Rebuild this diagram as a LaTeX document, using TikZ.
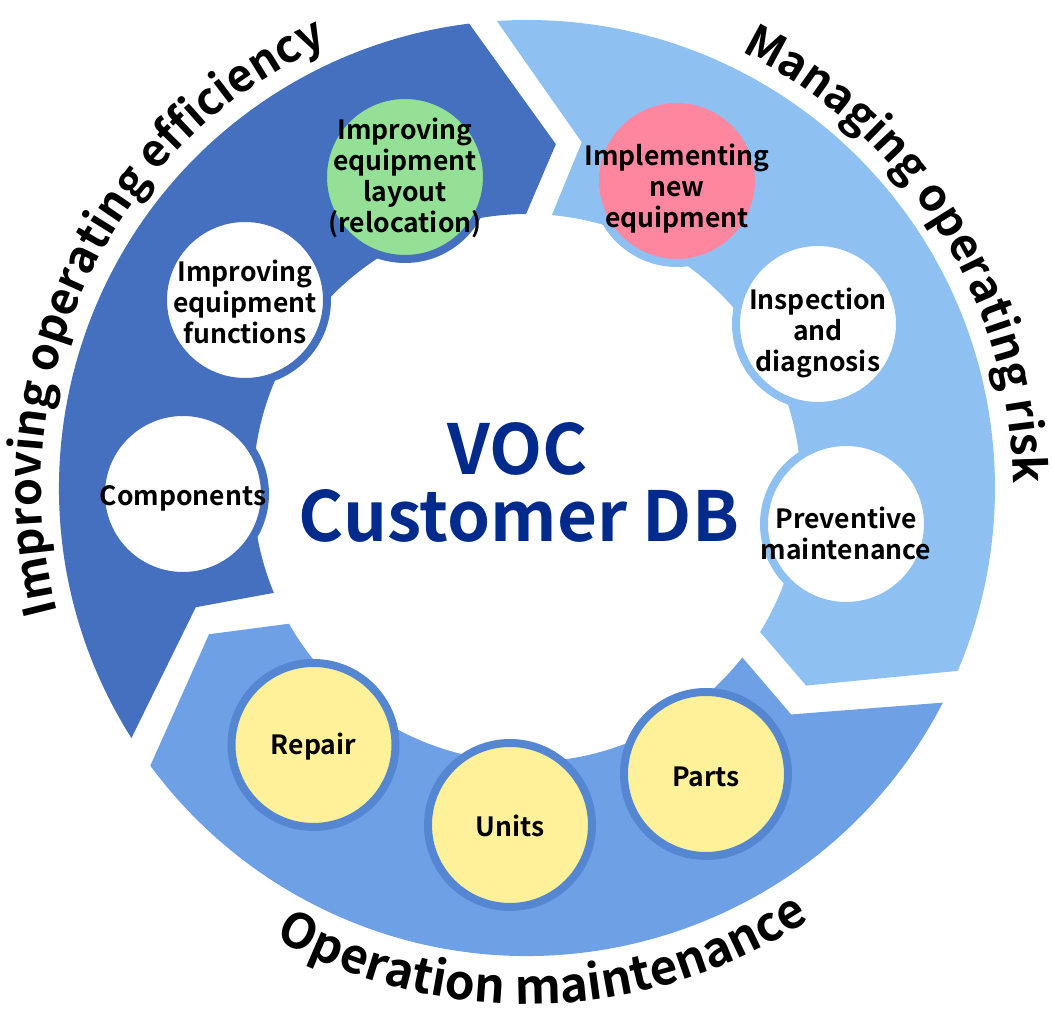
\documentclass[tikz,border=0pt]{standalone}
\usepackage{fontspec}
\setmainfont{Noto Sans CJK JP}[BoldFont={Noto Sans CJK JP Bold}]
\usetikzlibrary{decorations.text}
\definecolor{segA}{RGB}{68,112,191}
\definecolor{segB}{RGB}{142,193,242}
\definecolor{segC}{RGB}{110,160,230}
\definecolor{ringY}{RGB}{85,134,210}
\definecolor{fillY}{RGB}{255,241,153}
\definecolor{fillG}{RGB}{147,224,150}
\definecolor{fillP}{RGB}{255,134,159}
\definecolor{navy}{RGB}{0,42,140}
\begin{document}
\begin{tikzpicture}[x=1pt,y=1pt,
  disc/.style={circle, minimum size=164pt, inner sep=0pt, line width=8pt},
  lbl/.style={align=center, font=\bfseries\fontsize{26.5}{31}\selectfont, inner sep=0pt, text=black},
  big/.style={font=\bfseries\fontsize{69}{69}\selectfont, text=navy, anchor=base, inner sep=0pt},
  curved/.style 2 args={decorate, decoration={text along path, text align=center, text={|\bfseries\fontsize{#1}{#1}\selectfont|#2}}}
]
\useasboundingbox (-527,-536) rectangle (526,488);

% ring segments
\fill[segA] (212.3:468pt) arc[start angle=212.3, end angle=97.1, radius=468pt]
  -- (85.2:345pt) -- (90.2:274pt) arc[start angle=90.2, end angle=202.5, radius=274pt]
  -- (199.8:352pt) -- cycle;
\fill[segB] (93.7:468pt) arc[start angle=93.7, end angle=-23.0, radius=468pt]
  -- (-35.3:342pt) -- (-31.7:274pt) arc[start angle=-31.7, end angle=84.8, radius=274pt]
  -- (81.0:350pt) -- cycle;
\fill[segC] (-27.3:468pt) arc[start angle=-27.3, end angle=-143.6, radius=468pt]
  -- (-155.3:350pt) -- (-150.3:274pt) arc[start angle=-150.3, end angle=-38.2, radius=274pt]
  -- (-40.6:348pt) -- cycle;

% circles
\node[disc, fill=fillG, draw=segA] (layout) at (-122,311) {};
\node[disc, fill=white, draw=segA] (func) at (-282,188) {};
\node[disc, fill=white, draw=segA] (comp) at (-344,-6) {};
\node[disc, fill=fillP, draw=segB] (impl) at (150,307) {};
\node[disc, fill=white, draw=segB] (insp) at (291,164) {};
\node[disc, fill=white, draw=segB] (prev) at (319,-36) {};
\node[disc, fill=fillY, draw=ringY] (repair) at (-213.5,-257) {};
\node[disc, fill=fillY, draw=ringY] (units) at (-17,-337) {};
\node[disc, fill=fillY, draw=ringY] (parts) at (179,-286) {};

% circle labels
\node[lbl] (tlayout) at ([yshift=-1pt]layout.center) {Improving\\equipment\\layout\\(relocation)};
\node[lbl] (tfunc) at ([yshift=-2pt]func.center) {Improving\\equipment\\functions};
\node[lbl] (tcomp) at ([yshift=-4pt]comp.center) {Components};
\node[lbl] (timpl) at ([yshift=-8pt]impl.center) {Implementing\\new\\equipment};
\node[lbl] (tinsp) at ([yshift=-9pt]insp.center) {Inspection\\and\\diagnosis};
\node[lbl] (tprev) at ([yshift=-9pt]prev.center) {Preventive\\maintenance};
\node[lbl] (trepair) at ([yshift=-2pt]repair.center) {Repair};
\node[lbl] (tunits) at ([yshift=-1pt]units.center) {Units};
\node[lbl] (tparts) at ([yshift=-3pt]parts.center) {Parts};

% centre title
\node[big] (voc) at (-9.5,13) {VOC};
\node[big] (cdb) at (-8,-54) {Customer DB};

% curved captions
\path[curved={45}{Improving operating efficiency}] (200:486pt) arc[start angle=200, end angle=109, radius=486pt];
\path[curved={45}{Managing operating risk}] (72.5:486pt) arc[start angle=72.5, end angle=-8.1, radius=486pt];
\path[curved={48}{Operation maintenance}] (-128:516pt) arc[start angle=-128, end angle=-48, radius=516pt];
\end{tikzpicture}
\end{document}
